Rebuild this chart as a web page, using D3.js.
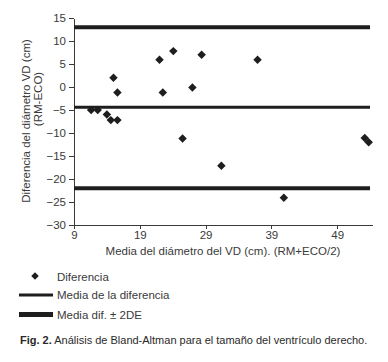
<!DOCTYPE html>
<html>
<head>
<meta charset="utf-8" />
<script src="https://d3js.org/d3.v7.min.js"></script>
<style>
  body { margin: 0; background: #fff; }
  svg { font-family: "Liberation Sans", Arial, sans-serif; }
  .axis text { font-size: 11.5px; fill: #3a3a3a; }
  .axis path, .axis line { stroke: #3a3a3a; stroke-width: 1; shape-rendering: crispEdges; }
</style>
</head>
<body>
<svg id="chart" width="388" height="362"></svg>
<script>
// mean of RM and ECO (x) and difference RM-ECO (y)
const meanVals = [11.6, 12.6, 14.0, 14.6, 15.6, 15.0, 15.6, 22.0, 22.5, 24.1, 25.5, 27.0, 28.4, 31.4, 36.9, 40.9, 53.2, 53.8];
const diffVals = [-5, -5, -6, -7.2, -7.2, 2, -1.2, 5.9, -1.2, 7.8, -11.2, -0.1, 7, -17.1, 5.9, -24.1, -11.1, -12];
const meanDiff = -4.4;
const limits = [13, -22];
const xTicks = [9, 19, 29, 39, 49];
const yTicks = [-30, -25, -20, -15, -10, -5, 0, 5, 10, 15];

const svg = d3.select('#chart');
const ink = '#1e1e1e';
const grey = '#3a3a3a';

const x = d3.scaleLinear().domain([9, 54.3]).range([74, 372]);
const y = d3.scaleLinear().domain([-30, 15]).range([225, 18]);

// axes
svg.append('g')
   .attr('class', 'axis')
   .attr('transform', 'translate(0,225)')
   .call(d3.axisBottom(x).tickValues(xTicks).tickSize(4).tickPadding(2).tickSizeOuter(0));
svg.append('g')
   .attr('class', 'axis')
   .attr('transform', 'translate(74,0)')
   .call(d3.axisLeft(y).tickValues(yTicks).tickSize(5).tickPadding(3).tickSizeOuter(0));

// reference lines
const x0 = x(9), x1 = x(54);
svg.append('line')
   .attr('x1', x0).attr('x2', x1)
   .attr('y1', y(meanDiff)).attr('y2', y(meanDiff))
   .attr('stroke', ink).attr('stroke-width', 3);
svg.selectAll('.lim')
   .data(limits)
   .enter().append('line')
   .attr('class', 'lim')
   .attr('x1', x0).attr('x2', x1)
   .attr('y1', d => y(d)).attr('y2', d => y(d))
   .attr('stroke', ink).attr('stroke-width', 4);

// points
const diamond = d3.symbol().type(d3.symbolSquare).size(36);
svg.selectAll('.pt')
   .data(meanVals.map((m, i) => [m, diffVals[i]]))
   .enter().append('path')
   .attr('class', 'pt')
   .attr('d', diamond)
   .attr('fill', ink)
   .attr('transform', d => `translate(${x(d[0])},${y(d[1])}) rotate(45)`);

// axis titles
svg.append('text')
   .attr('transform', 'translate(29.5,121) rotate(-90)')
   .attr('text-anchor', 'middle')
   .attr('font-size', 11.5).attr('fill', grey)
   .text('Diferencia del diámetro VD (cm)');
svg.append('text')
   .attr('transform', 'translate(41.5,99) rotate(-90)')
   .attr('text-anchor', 'middle')
   .attr('font-size', 11.5).attr('fill', grey)
   .text('(RM-ECO)');
svg.append('text')
   .attr('x', 223).attr('y', 254.5)
   .attr('text-anchor', 'middle')
   .attr('font-size', 11.5).attr('fill', grey)
   .text('Media del diámetro del VD (cm). (RM+ECO/2)');

// legend
const lg = svg.append('g');
lg.append('path')
  .attr('d', d3.symbol().type(d3.symbolSquare).size(28))
  .attr('fill', ink)
  .attr('transform', 'translate(35,276) rotate(45)');
lg.append('text').attr('x', 57).attr('y', 280.5).attr('font-size', 11.5).attr('fill', grey).text('Diferencia');
lg.append('line').attr('x1', 19).attr('x2', 53).attr('y1', 295).attr('y2', 295).attr('stroke', ink).attr('stroke-width', 3);
lg.append('text').attr('x', 57).attr('y', 299).attr('font-size', 11.5).attr('fill', grey).text('Media de la diferencia');
lg.append('line').attr('x1', 19).attr('x2', 53).attr('y1', 314.5).attr('y2', 314.5).attr('stroke', ink).attr('stroke-width', 5);
lg.append('text').attr('x', 57).attr('y', 318.5).attr('font-size', 11.5).attr('fill', grey).text('Media dif. ± 2DE');

// caption
const cap = svg.append('text')
   .attr('x', 20).attr('y', 344)
   .attr('font-size', 11).attr('fill', '#2a2a2a');
cap.append('tspan').attr('font-weight', 'bold').text('Fig. 2.');
cap.append('tspan').text(' Análisis de Bland-Altman para el tamaño del ventrículo derecho.');
</script>
</body>
</html>
